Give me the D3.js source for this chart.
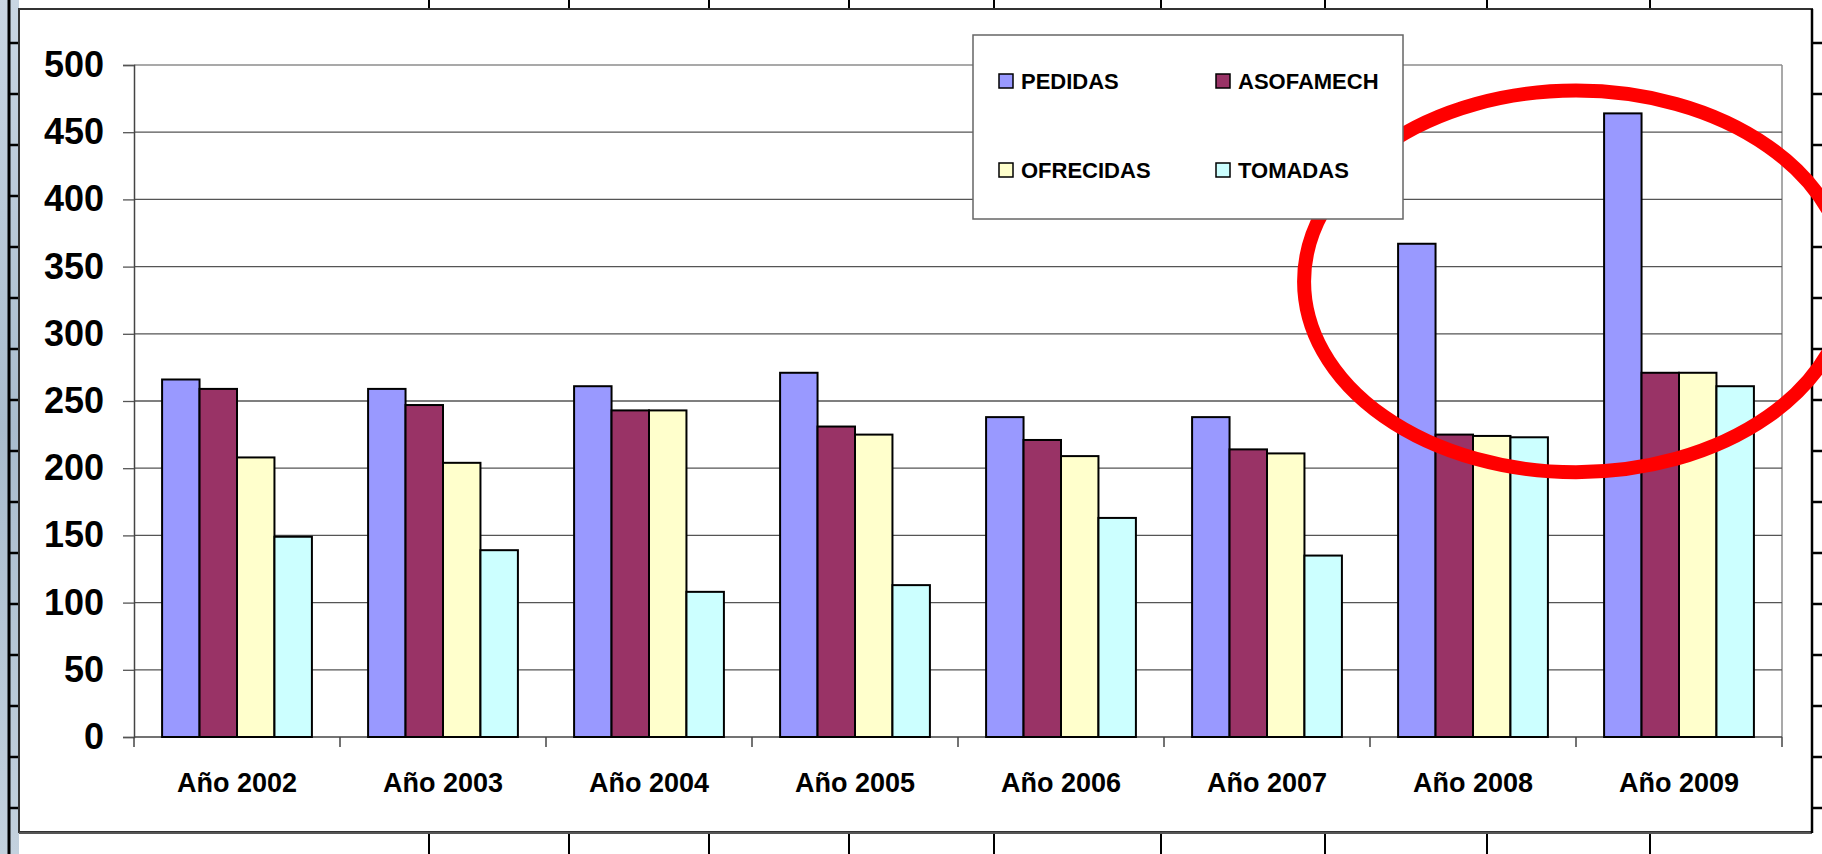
<!DOCTYPE html>
<html>
<head>
<meta charset="utf-8">
<script src="https://cdn.jsdelivr.net/npm/d3@7"></script>
<style>
  body { margin: 0; background: #fff; }
  svg { display: block; font-family: "Liberation Sans", Arial, sans-serif; font-weight: bold; }
</style>
</head>
<body>
<div id="chart"></div>
<script>
// data
const years = ['Año 2002', 'Año 2003', 'Año 2004', 'Año 2005', 'Año 2006', 'Año 2007', 'Año 2008', 'Año 2009']
const seriesNames = ['PEDIDAS', 'ASOFAMECH', 'OFRECIDAS', 'TOMADAS']
const pedidas = [266, 259, 261, 271, 238, 238, 367, 464]
const asofamech = [259, 247, 243, 231, 221, 214, 225, 271]
const ofrecidas = [208, 204, 243, 225, 209, 211, 224, 271]
const tomadas = [149, 139, 108, 113, 163, 135, 223, 261]
const yTicks = [0, 50, 100, 150, 200, 250, 300, 350, 400, 450, 500]
const colors = ['#9999ff', '#993366', '#ffffcc', '#ccffff']

const width = 1822, height = 854
const padding = { top: 65, right: 40, bottom: 117, left: 134 }
const series = [pedidas, asofamech, ofrecidas, tomadas]

const svg = d3.select('#chart')
    .append('svg')
    .attr('width', width)
    .attr('height', height)

// slide background strip on the left
const grad = svg.append('defs').append('linearGradient')
    .attr('id', 'strip').attr('x1', 0).attr('y1', 0).attr('x2', 0).attr('y2', 1)
grad.append('stop').attr('offset', '0%').attr('stop-color', '#c9d6e3')
grad.append('stop').attr('offset', '50%').attr('stop-color', '#a9bccd')
grad.append('stop').attr('offset', '100%').attr('stop-color', '#c3d1de')
svg.append('rect').attr('x', 0).attr('y', 0).attr('width', 19).attr('height', height).attr('fill', 'url(#strip)')
svg.append('line').attr('x1', 9).attr('x2', 9).attr('y1', 0).attr('y2', height)
    .attr('stroke', '#000').attr('stroke-width', 3)
d3.range(43, 830, 51).forEach(t => {
    svg.append('line').attr('x1', 9).attr('x2', 19).attr('y1', t).attr('y2', t)
        .attr('stroke', '#000').attr('stroke-width', 2.5)
    svg.append('line').attr('x1', 1812).attr('x2', 1822).attr('y1', t).attr('y2', t)
        .attr('stroke', '#000').attr('stroke-width', 2.5)
})
// table ticks peeking above and below the chart
;[429, 569, 709, 849, 994, 1161, 1325, 1487, 1650].forEach(t => {
    svg.append('line').attr('x1', t).attr('x2', t).attr('y1', 0).attr('y2', 9)
        .attr('stroke', '#000').attr('stroke-width', 2)
    svg.append('line').attr('x1', t).attr('x2', t).attr('y1', 833).attr('y2', height)
        .attr('stroke', '#000').attr('stroke-width', 2)
})

// chart frame
svg.append('rect')
    .attr('x', 19).attr('y', 9).attr('width', 1793).attr('height', 823)
    .attr('fill', '#fff').attr('stroke', '#333').attr('stroke-width', 2)
svg.append('line').attr('x1', 19).attr('x2', 1812).attr('y1', 833).attr('y2', 833)
    .attr('stroke', '#555').attr('stroke-width', 2)
svg.append('line').attr('x1', 1812).attr('x2', 1812).attr('y1', 9).attr('y2', 833)
    .attr('stroke', '#000').attr('stroke-width', 2.5)

const plotW = 1782 - padding.left
const plotH = 737 - padding.top

const xScale = d3.scaleBand()
    .domain(years)
    .range([0, plotW])
const barW = xScale.bandwidth() / 5.5
const xInner = d3.scaleBand()
    .domain(seriesNames)
    .range([barW * 0.75, barW * 4.75])
const yScale = d3.scaleLinear()
    .domain([0, 500])
    .range([plotH, 0])

const g = svg.append('g')
    .attr('transform', 'translate(' + padding.left + ',' + padding.top + ')')

// plot area border
g.append('line').attr('x1', 0).attr('x2', plotW).attr('y1', 0).attr('y2', 0)
    .attr('stroke', '#8c8c8c').attr('stroke-width', 1.5)
g.append('line').attr('x1', plotW).attr('x2', plotW).attr('y1', 0).attr('y2', plotH)
    .attr('stroke', '#8c8c8c').attr('stroke-width', 1.5)

// gridlines
g.selectAll('.grid')
    .data(yTicks.filter(d => d > 0 && d < 500))
    .enter()
    .append('line')
    .attr('class', 'grid')
    .attr('x1', 0).attr('x2', plotW)
    .attr('y1', d => yScale(d)).attr('y2', d => yScale(d))
    .attr('stroke', '#555').attr('stroke-width', 1.3)

// y axis
const yAxis = d3.axisLeft(yScale)
    .tickValues(yTicks)
    .tickSize(11)
    .tickPadding(19)
const yG = g.append('g').call(yAxis)
yG.select('.domain').attr('stroke', '#444').attr('stroke-width', 1.5)
yG.selectAll('.tick line').attr('stroke', '#555').attr('stroke-width', 1.3)
yG.selectAll('text')
    .attr('font-size', 36)
    .attr('font-weight', 'bold')
    .attr('font-family', '"Liberation Sans", Arial, sans-serif')
    .attr('fill', '#000')

// x axis
const xAxis = d3.axisBottom(xScale).tickSize(0)
const xG = g.append('g')
    .attr('transform', 'translate(0,' + plotH + ')')
    .call(xAxis)
xG.select('.domain').remove()
xG.selectAll('text')
    .attr('dy', null)
    .attr('y', 55)
    .attr('font-size', 27)
    .attr('font-weight', 'bold')
    .attr('font-family', '"Liberation Sans", Arial, sans-serif')
    .attr('fill', '#000')
g.append('line').attr('x1', 0).attr('x2', plotW).attr('y1', plotH).attr('y2', plotH)
    .attr('stroke', '#444').attr('stroke-width', 1.5)
g.selectAll('.xtick')
    .data(years.map(d => xScale(d)).concat([plotW]))
    .enter()
    .append('line')
    .attr('x1', d => d).attr('x2', d => d)
    .attr('y1', plotH).attr('y2', plotH + 10)
    .attr('stroke', '#444').attr('stroke-width', 1.5)

// bars
series.forEach((vals, si) => {
    g.selectAll('.bar' + si)
        .data(vals)
        .enter()
        .append('rect')
        .attr('x', (d, i) => xScale(years[i]) + xInner(seriesNames[si]))
        .attr('y', d => yScale(d))
        .attr('width', xInner.bandwidth())
        .attr('height', d => plotH - yScale(d))
        .attr('fill', colors[si])
        .attr('stroke', '#000')
        .attr('stroke-width', 2)
})

// legend
const legend = svg.append('g')
legend.append('rect')
    .attr('x', 973).attr('y', 35).attr('width', 430).attr('height', 184)
    .attr('fill', '#fff').attr('stroke', '#666').attr('stroke-width', 1.5)
const legX = [999, 1216]
const legY = [89, 178]
seriesNames.forEach((name, i) => {
    const lx = legX[i % 2], ly = legY[Math.floor(i / 2)]
    legend.append('rect')
        .attr('x', lx).attr('y', ly - 15).attr('width', 14).attr('height', 14)
        .attr('fill', colors[i]).attr('stroke', '#000').attr('stroke-width', 1.5)
    legend.append('text')
        .attr('x', lx + 22).attr('y', ly)
        .attr('font-size', 22)
        .text(name)
})

// red highlight ellipse round 2008-2009
g.append('ellipse')
    .attr('cx', xScale('Año 2009'))
    .attr('cy', yScale(339))
    .attr('rx', xScale.bandwidth() * 1.32)
    .attr('ry', plotH - yScale(142))
    .attr('fill', 'none')
    .attr('stroke', '#ff0000')
    .attr('stroke-width', 14)
</script>
</body>
</html>
